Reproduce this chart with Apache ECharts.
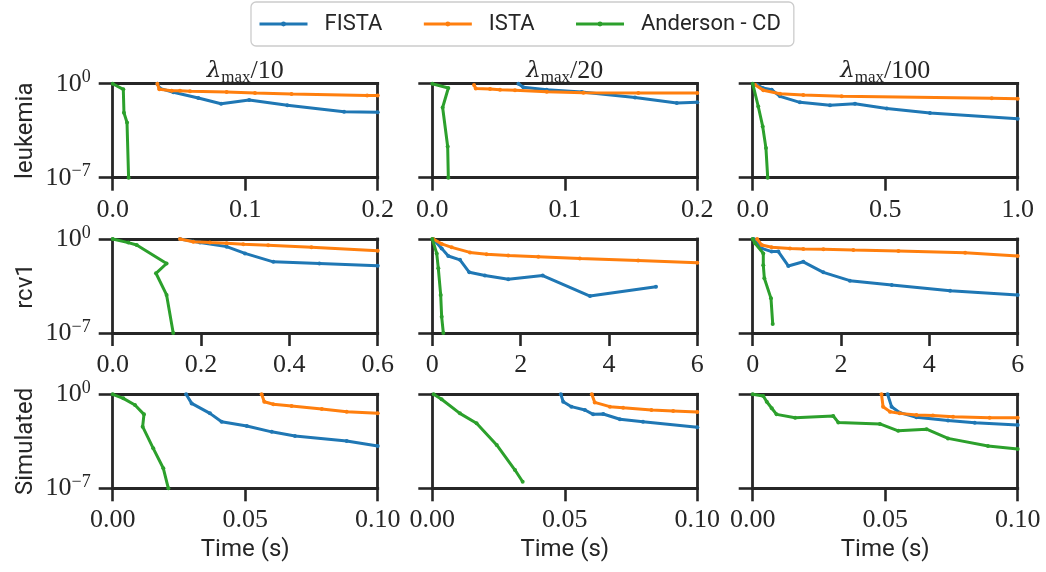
<!DOCTYPE html>
<html>
<head>
<meta charset="utf-8">
<script src="https://cdn.jsdelivr.net/npm/echarts@6/dist/echarts.min.js"></script>
<style>
  html, body { margin: 0; padding: 0; background: #ffffff; }
  #chart { width: 1046px; height: 572px; }
</style>
</head>
<body>
<div id="chart"></div>
<script>
// Row / column labels
const datasets = ['leukemia', 'rcv1', 'Simulated'];
const lambdaDivisors = ['10', '20', '100'];
const methods = ['FISTA', 'ISTA', 'Anderson - CD'];
const methodColors = ['#1f77b4', '#ff7f0e', '#2ca02c'];

// x-axis range, tick step and decimals for each panel (row-major)
const xMaxValues = [0.2, 0.2, 1.0, 0.6, 6, 6, 0.1, 0.1, 0.1];
const xTickSteps = [0.1, 0.1, 0.5, 0.2, 2, 2, 0.05, 0.05, 0.05];
const xTickDecimals = [1, 1, 1, 1, 0, 0, 2, 2, 2];

// y-axis: suboptimality, log scale from 1e-7 to 1e0
const yMin = 1e-7;
const yMax = 1;

// Convergence curves: [time (s), suboptimality]
// leukemia, lambda_max / 10
const leukemia10Fista = [[0.0337, 1], [0.0355, 0.45], [0.0458, 0.23], [0.0646, 0.085], [0.0818, 0.032], [0.103, 0.062], [0.1318, 0.025], [0.1746, 0.0081], [0.2, 0.0074]];
const leukemia10Ista = [[0.0337, 1], [0.0352, 0.38], [0.0445, 0.3], [0.0508, 0.3], [0.0584, 0.27], [0.086, 0.24], [0.1074, 0.2], [0.135, 0.17], [0.192, 0.13], [0.2, 0.13]];
const leukemia10Anderson = [[0, 1], [0.008, 0.38], [0.0085, 0.0069], [0.0108, 0.0013], [0.012, 1e-7]];
// leukemia, lambda_max / 20
const leukemia20Fista = [[0.065, 1], [0.0687, 0.54], [0.0864, 0.355], [0.1128, 0.24], [0.153, 0.095], [0.1845, 0.036], [0.2, 0.041]];
const leukemia20Ista = [[0.0315, 0.8], [0.0328, 0.43], [0.0436, 0.4], [0.0511, 0.355], [0.0624, 0.32], [0.0864, 0.25], [0.114, 0.21], [0.1555, 0.2], [0.2, 0.2]];
const leukemia20Anderson = [[0, 1], [0.0121, 0.48], [0.0078, 0.017], [0.0116, 0.000021], [0.0121, 1e-7]];
// leukemia, lambda_max / 100
const leukemia100Fista = [[0.015, 0.85], [0.0377, 0.48], [0.0717, 0.355], [0.103, 0.115], [0.178, 0.041], [0.2917, 0.025], [0.386, 0.032], [0.506, 0.014], [0.669, 0.0065], [1.0, 0.0025]];
const leukemia100Ista = [[0.0087, 0.85], [0.04, 0.32], [0.103, 0.18], [0.191, 0.145], [0.336, 0.115], [0.902, 0.081], [1.0, 0.076]];
const leukemia100Anderson = [[0, 1], [0.021, 0.02], [0.0377, 0.00066], [0.05, 0.000016], [0.0566, 1e-7]];
// rcv1, lambda_max / 10
const rcv10Fista = [[0.1524, 1], [0.1977, 0.54], [0.258, 0.27], [0.2995, 0.085], [0.3636, 0.02], [0.468, 0.015], [0.6, 0.01]];
const rcv10Ista = [[0.1524, 1], [0.1825, 0.63], [0.22, 0.54], [0.258, 0.48], [0.2957, 0.4], [0.352, 0.34], [0.45, 0.24], [0.6, 0.135]];
const rcv10Anderson = [[0, 1], [0.0353, 0.54], [0.0543, 0.355], [0.122, 0.015], [0.098, 0.0028], [0.122, 0.000068], [0.137, 1e-7]];
// rcv1, lambda_max / 20
const rcv20Fista = [[0.02, 1], [0.212, 0.2], [0.362, 0.054], [0.627, 0.028], [0.838, 0.0033], [1.19, 0.0019], [1.72, 0.001], [2.5, 0.0019], [3.57, 0.000056], [5.065, 0.00028]];
const rcv20Ista = [[0.02, 1], [0.212, 0.43], [0.439, 0.24], [0.853, 0.1], [1.23, 0.072], [1.72, 0.058], [2.4, 0.048], [3.34, 0.036], [4.66, 0.025], [6.0, 0.017]];
const rcv20Anderson = [[0, 1], [0.1, 0.085], [0.136, 0.0065], [0.19, 0.000068], [0.212, 1.6e-6], [0.25, 1e-7]];
// rcv1, lambda_max / 100
const rcv100Fista = [[0.02, 1], [0.204, 0.2], [0.43, 0.115], [0.58, 0.115], [0.806, 0.0098], [1.146, 0.02], [1.6, 0.0033], [2.2, 0.00079], [3.15, 0.00037], [4.47, 0.00014], [6.0, 0.000068]];
const rcv100Ista = [[0.1, 1], [0.204, 0.355], [0.43, 0.24], [0.845, 0.2], [1.146, 0.18], [1.6, 0.17], [2.28, 0.15], [3.3, 0.13], [4.81, 0.095], [6.0, 0.054]];
const rcv100Anderson = [[0, 1], [0.052, 0.48], [0.24, 0.085], [0.24, 0.011], [0.264, 0.0012], [0.414, 0.000038], [0.453, 4.7e-7]];
// Simulated, lambda_max / 10
const sim10Fista = [[0.0277, 1], [0.0298, 0.21], [0.0367, 0.038], [0.0411, 0.0091], [0.0506, 0.0044], [0.06, 0.0016], [0.0688, 0.00078], [0.0883, 0.00033], [0.1, 0.00014]];
const sim10Ista = [[0.0562, 1], [0.0572, 0.28], [0.0606, 0.18], [0.0675, 0.135], [0.0789, 0.079], [0.0883, 0.051], [0.1, 0.038]];
const sim10Anderson = [[0, 1], [0.004, 0.5], [0.0084, 0.16], [0.0118, 0.032], [0.0113, 0.0039], [0.0153, 0.000095], [0.0191, 3.1e-6], [0.021, 1e-7]];
// Simulated, lambda_max / 20
const sim20Fista = [[0.0485, 1], [0.0494, 0.28], [0.0525, 0.12], [0.0576, 0.068], [0.0607, 0.032], [0.0645, 0.034], [0.0708, 0.014], [0.0795, 0.0091], [0.1, 0.0035]];
const sim20Ista = [[0.0602, 1], [0.0613, 0.25], [0.067, 0.12], [0.072, 0.1], [0.0827, 0.068], [0.0909, 0.058], [0.1, 0.048]];
const sim20Anderson = [[0.0005, 1], [0.0035, 0.43], [0.0104, 0.038], [0.0167, 0.0069], [0.0243, 0.00017], [0.0312, 2.3e-6], [0.0341, 3.1e-7]];
// Simulated, lambda_max / 100
const sim100Fista = [[0.0509, 1], [0.0524, 0.12], [0.0555, 0.043], [0.0618, 0.0195], [0.0737, 0.011], [0.0838, 0.0076], [0.1, 0.0051]];
const sim100Ista = [[0.0486, 1], [0.0492, 0.12], [0.0518, 0.051], [0.0555, 0.038], [0.0618, 0.029], [0.068, 0.026], [0.0756, 0.021], [0.0894, 0.018], [0.1, 0.018]];
const sim100Anderson = [[0, 1], [0.004, 0.74], [0.0053, 0.28], [0.0072, 0.091], [0.009, 0.032], [0.016, 0.018], [0.0304, 0.024], [0.0323, 0.0081], [0.048, 0.0062], [0.0549, 0.0019], [0.0656, 0.0025], [0.0737, 0.00052], [0.0888, 0.00014], [0.1, 0.000085]];

const panelCurves = [
  [leukemia10Fista, leukemia10Ista, leukemia10Anderson],
  [leukemia20Fista, leukemia20Ista, leukemia20Anderson],
  [leukemia100Fista, leukemia100Ista, leukemia100Anderson],
  [rcv10Fista, rcv10Ista, rcv10Anderson],
  [rcv20Fista, rcv20Ista, rcv20Anderson],
  [rcv100Fista, rcv100Ista, rcv100Anderson],
  [sim10Fista, sim10Ista, sim10Anderson],
  [sim20Fista, sim20Ista, sim20Anderson],
  [sim100Fista, sim100Ista, sim100Anderson]
];

// Layout of the 3x3 panel grid (pixels)
const colLefts = [112.7, 432.3, 752.7];
const rowTops = [83.7, 239, 394.3];
const panelWidth = 265;
const panelHeight = 94;

const ink = '#262626';
const serif = 'Liberation Serif';
const sans = 'Roboto';
const spineWidth = 2.8;

const grids = [], xAxes = [], yAxes = [], xFrames = [], yFrames = [], series = [], titles = [];

for (let r = 0; r < 3; r++) {
  for (let c = 0; c < 3; c++) {
    const i = r * 3 + c;
    grids.push({
      left: colLefts[c], top: rowTops[r], width: panelWidth, height: panelHeight,
      show: false, containLabel: false
    });
    const dec = xTickDecimals[i];
    xAxes.push({
      type: 'value', gridIndex: i, position: 'bottom', min: 0, max: xMaxValues[i], interval: xTickSteps[i],
      axisLine: { show: true, onZero: false, lineStyle: { color: ink, width: spineWidth, cap: 'square' } },
      axisTick: { show: true, length: 13, lineStyle: { color: ink, width: 2.6 } },
      axisLabel: {
        show: true, margin: 19, color: ink, fontFamily: serif, fontSize: 26,
        showMinLabel: true, showMaxLabel: true,
        formatter: v => v.toFixed(dec)
      },
      splitLine: { show: false },
      name: r === 2 ? 'Time (s)' : '',
      nameLocation: 'middle', nameGap: 50,
      nameTextStyle: { fontFamily: sans, fontSize: 24, color: ink }
    });
    yAxes.push({
      type: 'log', logBase: 10, gridIndex: i, position: 'left', min: yMin, max: yMax, interval: 7,
      axisLine: { show: true, onZero: false, lineStyle: { color: ink, width: spineWidth, cap: 'square' } },
      axisTick: { show: true, length: 14, lineStyle: { color: ink, width: 2.6 } },
      axisLabel: {
        show: c === 0, margin: 22, color: ink,
        formatter: v => {
          const e = Math.round(Math.log10(v));
          return '{b|10}{e|' + (e < 0 ? '\u2212' + (-e) : e) + '}';
        },
        rich: {
          b: { fontFamily: serif, fontSize: 26, lineHeight: 30, verticalAlign: 'middle', color: ink },
          e: { fontFamily: serif, fontSize: 18, lineHeight: 18, verticalAlign: 'top', color: ink }
        }
      },
      splitLine: { show: false },
      minorTick: { show: false },
      name: c === 0 ? datasets[r] : '',
      nameLocation: 'middle', nameGap: 75,
      nameTextStyle: { fontFamily: sans, fontSize: 24, color: ink }
    });
    // top and right spines of the panel frame
    xFrames.push({
      type: 'value', gridIndex: i, position: 'top', min: 0, max: xMaxValues[i],
      axisLine: { show: true, onZero: false, lineStyle: { color: ink, width: spineWidth, cap: 'square' } },
      axisTick: { show: false }, axisLabel: { show: false }, splitLine: { show: false }
    });
    yFrames.push({
      type: 'log', logBase: 10, gridIndex: i, position: 'right', min: yMin, max: yMax,
      axisLine: { show: true, onZero: false, lineStyle: { color: ink, width: spineWidth, cap: 'square' } },
      axisTick: { show: false }, axisLabel: { show: false }, splitLine: { show: false }, minorTick: { show: false }
    });
    panelCurves[i].forEach((pts, m) => {
      series.push({
        type: 'line', name: methods[m], xAxisIndex: i, yAxisIndex: i,
        data: pts, symbol: 'circle', symbolSize: 4, showSymbol: true, showAllSymbol: true,
        clip: true, color: methodColors[m],
        lineStyle: { width: 3, color: methodColors[m] },
        itemStyle: { color: methodColors[m] },
        emphasis: { disabled: true }, animation: false, z: 2 + m
      });
    });
  }
}

lambdaDivisors.forEach((d, c) => {
  titles.push({
    text: '{l|\u03bb}{s|max}{n|/' + d + '}',
    left: colLefts[c] + panelWidth / 2, top: 56, textAlign: 'center',
    padding: 0,
    textStyle: {
      fontWeight: 'normal',
      rich: {
        l: { fontFamily: 'DejaVu Serif', fontStyle: 'italic', fontWeight: 'normal', fontSize: 23, lineHeight: 30, verticalAlign: 'middle', color: ink },
        s: { fontFamily: serif, fontWeight: 'normal', fontSize: 17, lineHeight: 17, verticalAlign: 'bottom', color: ink },
        n: { fontFamily: serif, fontWeight: 'normal', fontSize: 26, lineHeight: 30, verticalAlign: 'middle', color: ink }
      }
    }
  });
});

const chart = echarts.init(document.getElementById('chart'), null, { renderer: 'canvas' });
chart.setOption({
  animation: false,
  backgroundColor: '#ffffff',
  title: titles,
  legend: {
    data: methods, top: 2, left: 251, orient: 'horizontal',
    itemWidth: 48, itemHeight: 6, itemGap: 40,
    borderColor: '#cccccc', borderWidth: 1.3, borderRadius: 5,
    padding: [11, 13, 11, 7],
    lineStyle: { width: 3 },
    itemStyle: { borderWidth: 0 },
    formatter: name => '{g|\u00a0}{t|' + name + '}',
    textStyle: {
      fontFamily: sans, fontSize: 22, color: ink,
      rich: {
        g: { width: 12, fontSize: 22 },
        t: { fontFamily: sans, fontSize: 22, color: ink }
      }
    },
    selectedMode: false
  },
  grid: grids,
  xAxis: xAxes.concat(xFrames),
  yAxis: yAxes.concat(yFrames),
  series: series
});
</script>
</body>
</html>
